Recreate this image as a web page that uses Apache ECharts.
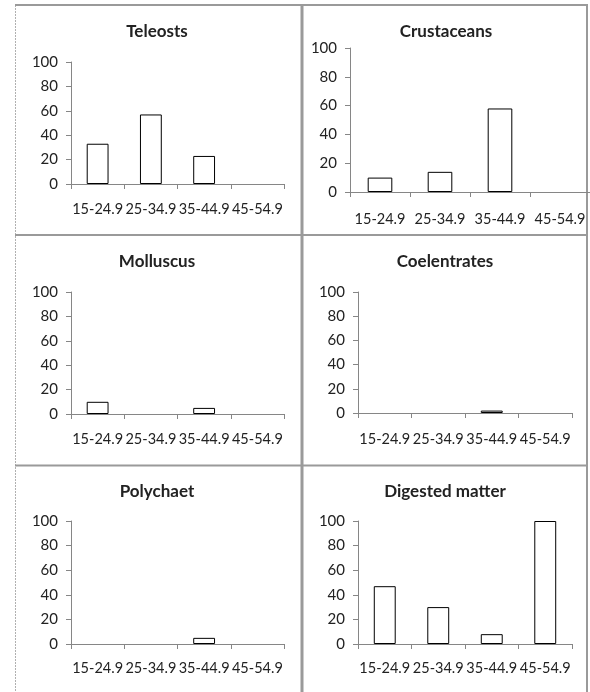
<!DOCTYPE html>
<html>
<head>
<meta charset="utf-8">
<script src="https://cdn.jsdelivr.net/npm/echarts@6/dist/echarts.min.js"></script>
<style>
  html, body { margin: 0; padding: 0; background: #fff; }
  #chart { width: 590px; height: 692px; }
</style>
</head>
<body>
<div id="chart"></div>
<script>
// ---- data ----
var categories = ['15-24.9', '25-34.9', '35-44.9', '45-54.9'];
var panelTitles = ['Teleosts', 'Crustaceans', 'Molluscus', 'Coelentrates', 'Polychaet', 'Digested matter'];
var teleosts = [33, 57, 23, 0];
var crustaceans = [10, 14, 58, 0];
var molluscus = [10, 0, 5, 0];
var coelentrates = [0, 0, 2, 0];
var polychaet = [0, 0, 5, 0];
var digestedMatter = [47, 30, 8, 100];
var yTicks = [0, 20, 40, 60, 80, 100];

var seriesValues = [teleosts, crustaceans, molluscus, coelentrates, polychaet, digestedMatter];

// ---- layout (pixels) ----
var grids = [
  { left: 71,  top: 62,  width: 213, height: 122 },
  { left: 350, top: 48,  width: 240, height: 144 },
  { left: 71,  top: 292, width: 213, height: 122 },
  { left: 358, top: 292, width: 214, height: 121 },
  { left: 71,  top: 521, width: 213, height: 123 },
  { left: 358, top: 521, width: 214, height: 123 }
];
var titlePos = [[157, 32], [446, 32], [157, 262], [445, 262], [157, 492], [445, 492]];
var labelMargins = [18, 20, 18, 19, 17, 17];

var FONT = 'Lato, "Open Sans", sans-serif';
var TEXT = '#222222';
var AXIS = '#868686';
var BORDER = '#9a9a9a';

var xAxes = [], yAxes = [], series = [], graphics = [];
for (var i = 0; i < 6; i++) {
  xAxes.push({
    type: 'category', gridIndex: i, data: categories,
    boundaryGap: true,
    axisLine: { show: true, lineStyle: { color: AXIS, width: 1 } },
    axisTick: { show: true, alignWithLabel: false, length: 5, inside: false, lineStyle: { color: AXIS } },
    axisLabel: { interval: 0, margin: labelMargins[i], color: TEXT, fontFamily: FONT, fontSize: 14.5 },
    splitLine: { show: false }
  });
  yAxes.push({
    type: 'value', gridIndex: i, min: yTicks[0], max: yTicks[yTicks.length - 1], interval: 20,
    axisLine: { show: true, lineStyle: { color: AXIS, width: 1 } },
    axisTick: { show: true, length: 5, lineStyle: { color: AXIS } },
    axisLabel: { margin: 13, color: TEXT, fontFamily: FONT, fontSize: 15 },
    splitLine: { show: false }
  });
  series.push({
    type: 'bar', name: panelTitles[i], xAxisIndex: i, yAxisIndex: i,
    data: seriesValues[i].map(function (v) { return v === 0 ? '-' : v; }),
    barWidth: '41%',
    itemStyle: { color: '#ffffff', borderColor: '#000000', borderWidth: 1 },
    emphasis: { disabled: true },
    animation: false
  });
  graphics.push({
    type: 'text', x: titlePos[i][0], y: titlePos[i][1],
    style: {
      text: panelTitles[i], align: 'center', verticalAlign: 'middle',
      fill: TEXT, font: 'bold 17px ' + FONT
    }
  });
}

// panel frame lines
graphics.push(
  { type: 'line', shape: { x1: 15.5, y1: 5, x2: 15.5, y2: 692 }, style: { stroke: '#b0b0b0', lineWidth: 1, lineDash: [2, 1] } },
  { type: 'line', shape: { x1: 15, y1: 5, x2: 588, y2: 5 }, style: { stroke: BORDER, lineWidth: 2 } },
  { type: 'line', shape: { x1: 587, y1: 4, x2: 587, y2: 692 }, style: { stroke: BORDER, lineWidth: 2 } },
  { type: 'line', shape: { x1: 302, y1: 4, x2: 302, y2: 692 }, style: { stroke: BORDER, lineWidth: 3 } },
  { type: 'line', shape: { x1: 15, y1: 235, x2: 588, y2: 235 }, style: { stroke: BORDER, lineWidth: 2 } },
  { type: 'line', shape: { x1: 15, y1: 465.5, x2: 588, y2: 465.5 }, style: { stroke: BORDER, lineWidth: 2 } }
);

var chart = echarts.init(document.getElementById('chart'), null, { renderer: 'canvas' });
chart.setOption({
  backgroundColor: '#ffffff',
  animation: false,
  grid: grids,
  xAxis: xAxes,
  yAxis: yAxes,
  series: series,
  graphic: { elements: graphics }
});
</script>
</body>
</html>
